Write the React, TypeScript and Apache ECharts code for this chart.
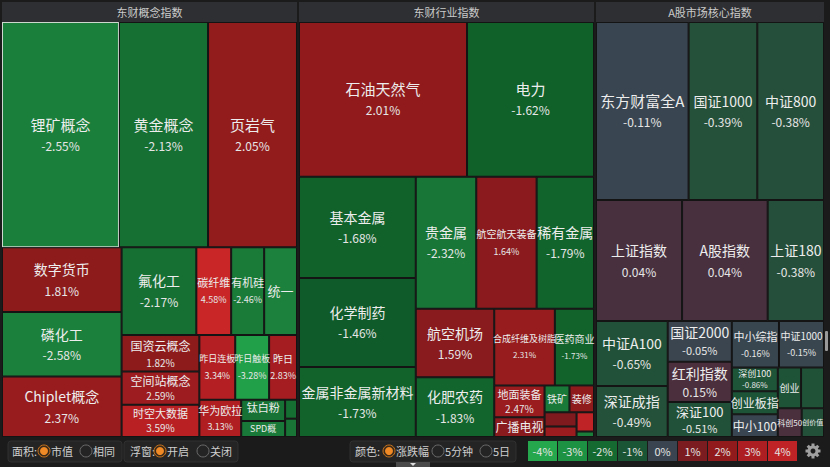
import React, { useEffect, useRef } from 'react';
import * as echarts from 'echarts';

const FONT = '"Noto Sans CJK SC", "Noto Sans", sans-serif';

// ---------------- data ----------------
const groupNames = ['东财概念指数', '东财行业指数', 'A股市场核心指数'];

const conceptNames = ['锂矿概念', '黄金概念', '页岩气', '数字货币', '磷化工', 'Chiplet概念', '氟化工', '碳纤维', '有机硅', '统一', '国资云概念', '空间站概念', '时空大数据', '昨日连板', '昨日触板', '昨日', '华为欧拉', '钛白粉', 'SPD概', '', ''];
const conceptSizes = [26200, 19950, 19930, 7690, 7680, 7200, 6525, 3045, 2880, 2870, 2808, 2574, 2496, 2304, 2176, 1792, 1554, 930, 700, 225, 217];
const conceptChanges = [-2.55, -2.13, 2.05, 1.81, -2.58, 2.37, -2.17, 4.58, -2.46, -2.6, 1.82, 2.59, 3.59, 3.34, -3.28, 2.83, 3.13, -2.23, -2.4, -2.1, -2.3];

const industryNames = ['石油天然气', '电力', '基本金属', '化学制药', '金属非金属新材料', '贵金属', '航空航天装备', '稀有金属', '航空机场', '化肥农药', '合成纤维及树脂', '医药商业', '地面装备', '广播电视', '铁矿', '装修', '', '', '', ''];
const industrySizes = [26040, 19685, 11817, 10413, 8190, 7990, 7980, 7581, 5372, 4700, 4650, 3003, 1600, 1000, 670, 660, 456, 336, 336, 96];
const industryChanges = [2.01, -1.62, -1.68, -1.46, -1.73, -2.32, 1.64, -1.79, 1.59, -1.83, 2.31, -1.73, 2.47, 1.6, -2.4, 1.9, 1.2, 4.0, 2.5, -2.5];

const coreNames = ['东方财富全A', '国证1000', '中证800', '上证指数', 'A股指数', '上证180', '中证A100', '深证成指', '国证2000', '红利指数', '深证100', '中小综指', '中证1000', '深创100', '创业板指', '中小100', '创业', '', '科创50', '创价值'];
const coreSizes = [16554, 12282, 11926, 10450, 10400, 6840, 4680, 3672, 2620, 2600, 2250, 2200, 2100, 1100, 1060, 1050, 952, 940, 690, 644];
const coreChanges = [-0.11, -0.39, -0.38, 0.04, 0.04, -0.38, -0.65, -0.49, -0.05, 0.15, -0.51, -0.16, -0.15, -0.86, -0.9, -0.08, -0.8, -0.7, 0.1, -0.45];

const legendTicks = [-4, -3, -2, -1, 0, 1, 2, 3, 4];

const toolbarLabels = ['面积:', '浮窗:', '颜色:'];
const toolbarOptions = [['市值', '相同'], ['开启', '关闭'], ['涨跌幅', '5分钟', '5日']];

// ---------------- styles ----------------
const colorStops: [number, string][] = [
  [-4.0, '#25a84d'], [-3.3, '#22a04a'], [-3.0, '#1d9242'], [-2.5, '#1a7d3a'], [-2.0, '#146a30'],
  [-1.6, '#0f5f29'], [-1.4, '#10592a'], [-0.9, '#1d5438'], [-0.4, '#245039'], [-0.2, '#384650'],
  [0.0, '#3a4450'], [0.03, '#48303f'], [0.2, '#4e2e3b'], [1.0, '#7a1c20'], [1.6, '#891a1d'],
  [2.0, '#911b1c'], [2.6, '#9c1c20'], [3.1, '#b01e22'], [3.6, '#b82024'], [4.6, '#c92727'],
];

function hexRgb(h: string) {
  return [parseInt(h.slice(1, 3), 16), parseInt(h.slice(3, 5), 16), parseInt(h.slice(5, 7), 16)];
}
function colorFor(v: number) {
  if (v <= colorStops[0][0]) return colorStops[0][1];
  const last = colorStops[colorStops.length - 1];
  if (v >= last[0]) return last[1];
  for (let i = 0; i < colorStops.length - 1; i++) {
    const [a, ca] = colorStops[i];
    const [b, cb] = colorStops[i + 1];
    if (v >= a && v <= b) {
      const t = (v - a) / (b - a);
      const x = hexRgb(ca), y = hexRgb(cb);
      const c = x.map((xx, k) => Math.round(xx + (y[k] - xx) * t));
      return `rgb(${c[0]},${c[1]},${c[2]})`;
    }
  }
  return last[1];
}

// label font sizes [name, percent]; 0 percent = hidden
const labelOverrides: Record<string, [number, number]> = {
  '碳纤维': [11, 9], '有机硅': [11, 9], '统一': [13, 0], '国资云概念': [12, 10], '空间站概念': [12, 10],
  '时空大数据': [11, 10], '昨日连板': [9, 9], '昨日触板': [9, 9], '昨日': [10, 9], '华为欧拉': [11, 9],
  '钛白粉': [11, 9], 'SPD概': [9, 0],
  '航空航天装备': [10, 9], '合成纤维及树脂': [9, 8], '医药商业': [10, 8], '地面装备': [11, 10],
  '广播电视': [12, 0], '铁矿': [10, 0], '装修': [10, 0],
  '国证2000': [14, 11], '红利指数': [14, 12], '深证100': [13, 11],
  '中小综指': [11, 9], '中证1000': [10, 9], '深创100': [9, 8], '创业板指': [12, 0], '中小100': [12, 0],
  '创业': [10, 0], '科创50': [8, 0], '创价值': [7, 0],
};
function labelSizes(name: string, area: number): [number, number] {
  if (!name) return [0, 0];
  if (labelOverrides[name]) return labelOverrides[name];
  if (area >= 15000) return [15, 12];
  return [14, 12];
}
const NAME_COLOR = '#ededed';
const PCT_COLOR = '#e6e6e6';

const highlighted = new Set(['锂矿概念']);

function labelFor(n: string, ns: number, ps: number, pct: string, h?: number) {
  const avail = h ? h - 2 : 999;
  let nlh: number, plh = 0;
  if (ps) {
    const e = Math.max(1, Math.min(8, Math.floor((avail - ns - ps) / 2)));
    nlh = ns + e;
    plh = ps + e;
  } else {
    nlh = Math.max(ns, Math.min(ns + 4, avail));
  }
  const contentH = nlh + plh;
  const pad = h ? Math.max(0, Math.floor((avail - contentH) / 2)) : 0;
  return {
    formatter: ps ? `{n|${n}}\n{p|${pct}}` : `{n|${n}}`,
    padding: [pad, 0, 0, 0],
    rich: {
      n: { fontSize: ns, lineHeight: nlh, color: NAME_COLOR, fontFamily: FONT },
      p: { fontSize: ps || 8, lineHeight: plh || 8, color: PCT_COLOR, fontFamily: FONT },
    },
  };
}

function buildSeries(gi: number, names: string[], sizes: number[], changes: number[], left: number, width: number, heights?: number[]) {
  const children = names.map((n, i) => {
    const [ns, ps] = labelSizes(n, sizes[i]);
    const item: any = { name: n, value: sizes[i], itemStyle: { color: colorFor(changes[i]) } };
    if (ns === 0) {
      item.label = { show: false };
    } else {
      item.label = labelFor(n, ns, ps, changes[i].toFixed(2) + '%', heights ? heights[i] : undefined);
    }
    if (highlighted.has(n)) item.itemStyle.borderColor = '#cfd8cf';
    return item;
  });
  return {
    type: 'treemap',
    left, top: 2, width, height: 435,
    roam: false,
    nodeClick: false,
    breadcrumb: { show: false },
    drillDownIcon: '',
    visibleMin: 1,
    label: {
      show: true, position: 'inside', align: 'center', verticalAlign: 'middle',
      overflow: 'none', fontFamily: FONT,
    },
    upperLabel: { show: false },
    itemStyle: { borderColor: '#1b1b1b', borderWidth: 0, gapWidth: 0 },
    emphasis: { disabled: true },
    levels: [
      { itemStyle: { borderColor: '#1b1b1b', borderWidth: 0, gapWidth: 0 }, upperLabel: { show: false } },
      {
        itemStyle: { borderColor: '#2e2f32', borderWidth: 0, gapWidth: 0 },
        upperLabel: { show: true, height: 20, position: 'inside', color: '#cbcbcb', fontSize: 11, fontFamily: FONT },
      },
      { itemStyle: { borderColor: '#141414', borderWidth: 1, gapWidth: 0 } },
    ],
    data: [{ name: groupNames[gi], children }],
  };
}

function radio(cx: number, cy: number, on: boolean) {
  if (on) {
    return [
      { type: 'circle', shape: { cx, cy, r: 6 }, style: { fill: '#3a2a1a', stroke: '#c8741e', lineWidth: 1 } },
      { type: 'circle', shape: { cx, cy, r: 4 }, style: { fill: '#f08a26' } },
    ];
  }
  return [{ type: 'circle', shape: { cx, cy, r: 6 }, style: { fill: 'none', stroke: '#6a6a6a', lineWidth: 1 } }];
}

function buildToolbar() {
  const els: any[] = [];
  const cy = 451;
  const boxes = [
    { x: 8, w: 114, labelX: 12, radios: [44, 86], texts: [51, 93] },
    { x: 124, w: 114, labelX: 130, radios: [160, 203], texts: [167, 210] },
    { x: 350, w: 166, labelX: 355, radios: [389, 438, 486], texts: [396, 445, 493] },
  ];
  boxes.forEach((b, gi) => {
    els.push({ type: 'rect', shape: { x: b.x, y: 441, width: b.w, height: 21, r: 3 }, style: { fill: '#242424', stroke: '#303030', lineWidth: 1 } });
    els.push({ type: 'text', x: b.labelX, y: cy, style: { text: toolbarLabels[gi], fill: '#cfcfcf', fontSize: 11, fontFamily: FONT, verticalAlign: 'middle' } });
    toolbarOptions[gi].forEach((t, k) => {
      els.push(...radio(b.radios[k], cy, k === 0));
      els.push({ type: 'text', x: b.texts[k], y: cy, style: { text: t, fill: '#cfcfcf', fontSize: 11, fontFamily: FONT, verticalAlign: 'middle' } });
    });
  });
  legendTicks.forEach((v, i) => {
    const x = 528 + i * 30;
    els.push({ type: 'rect', shape: { x, y: 441, width: 29, height: 20 }, style: { fill: colorFor(v) } });
    els.push({ type: 'text', x: x + 14.5, y: cy, style: { text: v + '%', fill: '#e4e4e4', fontSize: 11, fontFamily: FONT, align: 'center', verticalAlign: 'middle' } });
  });
  const gx = 813, gy = 451;
  els.push({ type: 'ring', shape: { cx: gx, cy: gy, r: 5.5, r0: 2.5 }, style: { fill: '#a0a0a0' } });
  for (let k = 0; k < 8; k++) {
    const a = (k * Math.PI) / 4;
    els.push({ type: 'rect', x: gx + 6 * Math.cos(a), y: gy + 6 * Math.sin(a), rotation: -a, shape: { x: -1.5, y: -1.5, width: 3, height: 3 }, style: { fill: '#a0a0a0' } });
  }
  els.push({ type: 'rect', shape: { x: 396, y: 462, width: 34, height: 5 }, style: { fill: '#4a4a4a' } });
  els.push({ type: 'polygon', shape: { points: [[410, 463], [416, 463], [413, 466]] }, style: { fill: '#dddddd' } });
  els.push({ type: 'rect', shape: { x: 825, y: 331, width: 3, height: 20, r: 1 }, style: { fill: '#9a9a9a' } });
  return els;
}

const groups = [
  { names: conceptNames, sizes: conceptSizes, changes: conceptChanges, left: 2, width: 295 },
  { names: industryNames, sizes: industrySizes, changes: industryChanges, left: 299, width: 295 },
  { names: coreNames, sizes: coreSizes, changes: coreChanges, left: 596, width: 228 },
];

function buildOption(heights?: number[][]) {
  return {
    animation: false,
    backgroundColor: '#1b1b1b',
    tooltip: { show: false },
    series: groups.map((g, i) => buildSeries(i, g.names, g.sizes, g.changes, g.left, g.width, heights ? heights[i] : undefined)),
    graphic: buildToolbar(),
  };
}

function readHeights(chart: any): number[][] | undefined {
  try {
    const model = chart.getModel();
    return groups.map((_, si) => {
      const sm = model.getSeriesByIndex(si);
      const data = sm.getData();
      const root = data.tree ? data.tree.root : sm.getViewRoot();
      const group = root.children[0];
      return group.children.map((node: any) => {
        const l = node.getLayout();
        return l ? l.height : 0;
      });
    });
  } catch (e) {
    return undefined;
  }
}

export default function App() {
  const ref = useRef<HTMLDivElement>(null);
  useEffect(() => {
    if (!ref.current) return;
    const chart = echarts.init(ref.current, null, { renderer: 'svg' });
    chart.setOption(buildOption());
    const heights = readHeights(chart);
    if (heights) chart.setOption(buildOption(heights));
    return () => chart.dispose();
  }, []);
  return (
    <div style={{ position: 'fixed', left: 0, top: 0, width: 830, height: 467, background: '#1b1b1b' }}>
      <div ref={ref} style={{ width: 830, height: 467 }} />
    </div>
  );
}
